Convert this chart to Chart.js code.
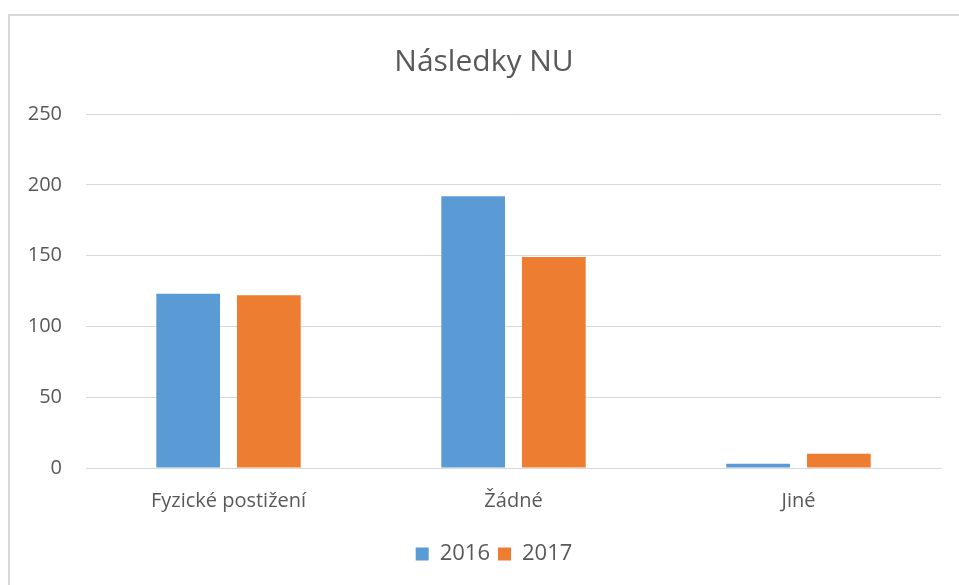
<!DOCTYPE html>
<html>
<head>
<meta charset="utf-8">
<script src="https://cdn.jsdelivr.net/npm/chart.js@4.4.1/dist/chart.umd.min.js"></script>
<style>
  html,body{margin:0;padding:0;background:#fff;}
  #wrap{position:relative;width:959px;height:585px;overflow:hidden;}
  #frame{position:absolute;left:8px;top:14px;width:980px;height:600px;border-left:2px solid #d9d9d9;border-top:2px solid #d9d9d9;box-sizing:border-box;}
  canvas{position:absolute;left:0;top:0;}
</style>
</head>
<body>
<div id="wrap">
  <div id="frame"></div>
  <canvas id="c" width="959" height="585"></canvas>
</div>
<script>
const categories=['Fyzické postižení','Žádné','Jiné'];
const seriesNames=['2016','2017'];
const values2016=[123,192,3];
const values2017=[122,149,10];
const yTicks=[0,50,100,150,200,250];

const txt='#595959';
const font='"Open Sans", sans-serif';

// nudge legend a bit right, as in the original
const legendShift={id:'legendShift',afterLayout(chart){
  chart.legend.left+=10;chart.legend.right+=10;
}};

new Chart(document.getElementById('c'),{
  type:'bar',
  data:{
    labels:categories,
    datasets:[
      {label:seriesNames[0],data:values2016,backgroundColor:'#5B9BD5'},
      {label:seriesNames[1],data:values2017,backgroundColor:'#ED7D31'}
    ]
  },
  options:{
    responsive:false,
    animation:false,
    datasets:{bar:{categoryPercentage:0.566,barPercentage:0.79}},
    layout:{padding:{left:27,right:18,top:0,bottom:10}},
    plugins:{
      title:{display:true,text:'Následky NU',color:txt,
        font:{family:font,size:30,weight:'normal'},padding:{top:44,bottom:34}},
      legend:{position:'bottom',
        labels:{color:txt,font:{family:font,size:22},boxWidth:13,boxHeight:13,padding:8}},
      tooltip:{enabled:false}
    },
    scales:{
      x:{
        grid:{display:false,drawTicks:false},
        border:{display:true,color:'#d9d9d9'},
        ticks:{color:txt,font:{family:font,size:20},padding:21,maxRotation:0},
        afterFit:s=>{s.height=67;}
      },
      y:{
        min:yTicks[0],max:yTicks[yTicks.length-1],
        afterBuildTicks:s=>{s.ticks=yTicks.map(v=>({value:v}));},
        grid:{color:'#d9d9d9',drawTicks:false},
        border:{display:false},
        ticks:{color:txt,font:{family:font,size:20},padding:24},
        afterFit:s=>{s.width=59;}
      }
    }
  },
  plugins:[legendShift]
});
</script>
</body>
</html>
